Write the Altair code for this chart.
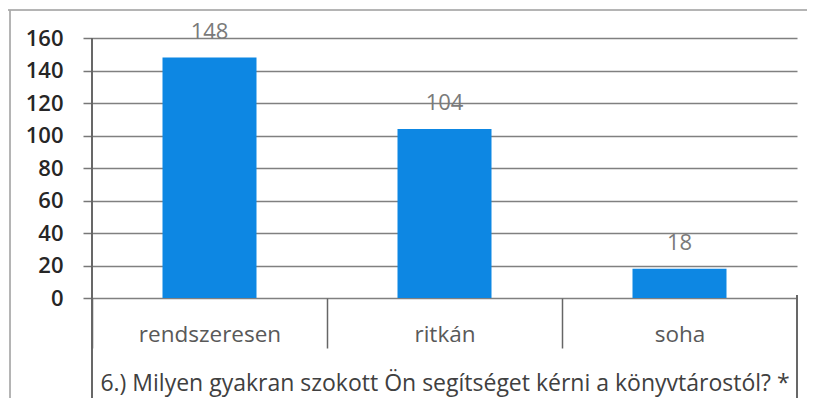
import altair as alt
import pandas as pd

categories = ["rendszeresen", "ritkán", "soha"]
values = [148, 104, 18]
y_ticks = [0, 20, 40, 60, 80, 100, 120, 140, 160]
title_text = "6.) Milyen gyakran szokott Ön segítséget kérni a könyvtárostól? *"

df = pd.DataFrame({"cat": categories, "val": values})

W, H = 705, 260
FONT = "Open Sans"

x_enc = alt.X(
    "cat:N", sort=categories,
    scale=alt.Scale(paddingInner=0.6, paddingOuter=0.3),
    axis=alt.Axis(
        title=title_text, titleFont=FONT, titleFontSize=23, titleFontWeight="normal",
        titleColor="#404040", titleY=85, titleBaseline="middle",
        labelAngle=0, labelFont=FONT, labelFontSize=22.5, labelColor="#595959",
        labelPadding=-14, labelBaseline="middle", labelOffset=117.5,
        tickSize=50, tickColor="#666666", tickWidth=1.5, tickOffset=-117.5,
        domain=False, grid=False,
    ),
)
y_enc = alt.Y(
    "val:Q", scale=alt.Scale(domain=[0, 160], nice=False),
    axis=alt.Axis(
        title=None, values=y_ticks, domain=False, labelOverlap=False,
        grid=True, gridColor="#808080", gridWidth=1.6,
        tickSize=9, tickColor="#777777", tickWidth=1.5,
        labelFont=FONT, labelFontSize=22, labelColor="#262626", labelFontWeight=600,
        labelPadding=20,
    ),
)

base = alt.Chart(df).encode(x=x_enc, y=y_enc)

bars = base.mark_bar(color="#0d87e3")

labels = base.mark_text(
    baseline="bottom", dy=-14, font=FONT, fontSize=22, color="#7a7a7a"
).encode(text="val:Q")

plain = alt.Chart(df)
left_line = plain.mark_rule(color="#666666", strokeWidth=1.5).encode(
    x=alt.value(0), y=alt.value(0), y2=alt.value(362)
)
right_line = plain.mark_rule(color="#666666", strokeWidth=1.5).encode(
    x=alt.value(W), y=alt.value(257), y2=alt.value(362)
)
frame_top = plain.mark_rule(color="#aaaaaa", strokeWidth=1).encode(
    x=alt.value(-84), x2=alt.value(723), y=alt.value(-28)
)
frame_left = plain.mark_rule(color="#aaaaaa", strokeWidth=1).encode(
    x=alt.value(-82), y=alt.value(-28), y2=alt.value(362)
)

chart = alt.layer(bars, labels, left_line, right_line, frame_top, frame_left).properties(
    width=W, height=H,
    autosize=alt.AutoSizeParams(type="none"),
    padding={"left": 84, "top": 30, "right": 10, "bottom": 100},
).configure_view(stroke=None)

chart.save("out.html", embed_options={"renderer": "svg", "actions": False})
